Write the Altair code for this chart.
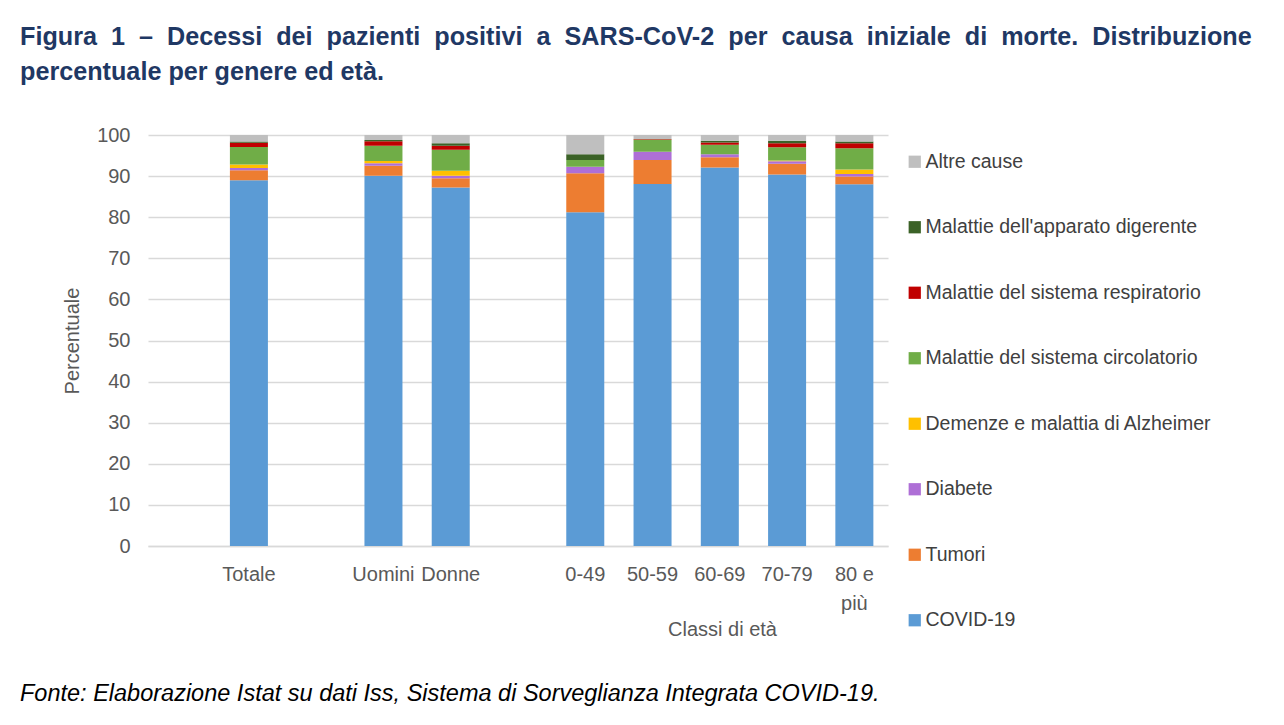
import altair as alt
import pandas as pd

categories = [" ", "Totale", "  ", "Uomini", "Donne", "   ",
              "0-49", "50-59", "60-69", "70-79", "80 e più"]
groups = ["Totale", "Uomini", "Donne", "0-49", "50-59", "60-69", "70-79", "80 e più"]

causes = ["COVID-19", "Tumori", "Diabete", "Demenze e malattia di Alzheimer",
          "Malattie del sistema circolatorio", "Malattie del sistema respiratorio",
          "Malattie dell'apparato digerente", "Altre cause"]
colors = ["#5B9BD5", "#ED7D31", "#AE6FD6", "#FFC000",
          "#70AD47", "#C00000", "#3B6227", "#BFBFBF"]

covid = [89.0, 90.1, 87.2, 81.2, 88.1, 92.1, 90.4, 88.0]
tumori = [2.4, 2.4, 2.3, 9.5, 5.8, 2.5, 2.6, 1.9]
diabete = [0.6, 0.6, 0.6, 1.6, 2.0, 0.7, 0.6, 0.6]
demenze = [0.8, 0.6, 1.2, 0.0, 0.0, 0.0, 0.2, 1.1]
circolatorio = [4.3, 3.7, 5.1, 1.6, 3.0, 2.3, 3.2, 5.2]
respiratorio = [1.0, 1.1, 1.0, 0.0, 0.1, 0.6, 1.0, 1.2]
digerente = [0.3, 0.3, 0.6, 1.4, 0.0, 0.4, 0.6, 0.4]
altre = [1.6, 1.2, 2.0, 4.7, 1.0, 1.4, 1.4, 1.6]

series = [covid, tumori, diabete, demenze, circolatorio, respiratorio, digerente, altre]

rows = []
for ci, (cause, vals) in enumerate(zip(causes, series)):
    for g, v in zip(groups, vals):
        rows.append({"gruppo": g, "causa": cause, "valore": v, "ordine": ci})
df = pd.DataFrame(rows)

# first line is justified in the reference: widen word gaps with no-break spaces
title_line1 = "Figura 1 – Decessi dei pazienti positivi a SARS-CoV-2 per causa iniziale di morte. Distribuzione"
title_line2 = "percentuale per genere ed età."
title_lines = [title_line1.replace(" ", " \u00a0"), title_line2]
footer = "Fonte: Elaborazione Istat su dati Iss, Sistema di Sorveglianza Integrata COVID-19."

FONT = "Liberation Sans"

bars = alt.Chart(df).mark_bar().encode(
    x=alt.X("gruppo:N", scale=alt.Scale(domain=categories, paddingInner=0.435, paddingOuter=0.2175),
            axis=alt.Axis(title="Classi di età", titleX=574, titleY=83, titleBaseline="middle",
                          titleFontSize=20, titleFontWeight="normal", titleColor="#595959",
                          labelAngle=0, labelFontSize=20, labelColor="#595959", labelPadding=18,
                          labelExpr="datum.value == '80 e più' ? ['80 e', 'più'] : datum.label",
                          ticks=False, domainColor="#D9D9D9", domainWidth=1.5, labelFont=FONT,
                          titleFont=FONT, labelLineHeight=29)),
    y=alt.Y("valore:Q", stack="zero", scale=alt.Scale(domain=[0, 100], nice=False),
            axis=alt.Axis(title="Percentuale", values=list(range(0, 101, 10)), titleX=-66,
                          titleFontSize=20, titleFontWeight="normal", titleColor="#595959",
                          labelFontSize=20, labelColor="#595959", labelPadding=18, ticks=False,
                          domain=False, gridColor="#D9D9D9", gridWidth=1.5, labelFont=FONT,
                          titleFont=FONT)),
    color=alt.Color("causa:N", scale=alt.Scale(domain=causes[::-1], range=colors[::-1]),
                    legend=alt.Legend(title=None, orient="none", legendX=757, legendY=17,
                                      labelFontSize=19.5, labelColor="#404040", labelFont=FONT,
                                      symbolType="square", symbolSize=150, symbolStrokeWidth=0,
                                      rowPadding=44.5, labelOffset=1, labelLimit=400)),
    order=alt.Order("ordine:Q", sort="ascending"),
)

foot = alt.Chart(pd.DataFrame({"t": [footer]})).mark_text(
    align="left", baseline="middle", fontSize=23.5, fontStyle="italic", font=FONT, color="#000000"
).encode(text="t:N", x=alt.value(-128), y=alt.value(559))

chart = alt.layer(bars, foot).properties(
    width=740, height=411,
    autosize=alt.AutoSizeParams(type="none"),
    padding={"left": 140, "top": 127, "right": 388, "bottom": 171},
    title=alt.TitleParams(text=title_lines, anchor="start", dx=0, fontSize=25.2, font=FONT,
                          fontWeight="bold", color="#1F3864", offset=40, lineHeight=35),
).configure_view(stroke=None)

chart.save("out.html", embed_options={"renderer": "svg", "actions": False})
